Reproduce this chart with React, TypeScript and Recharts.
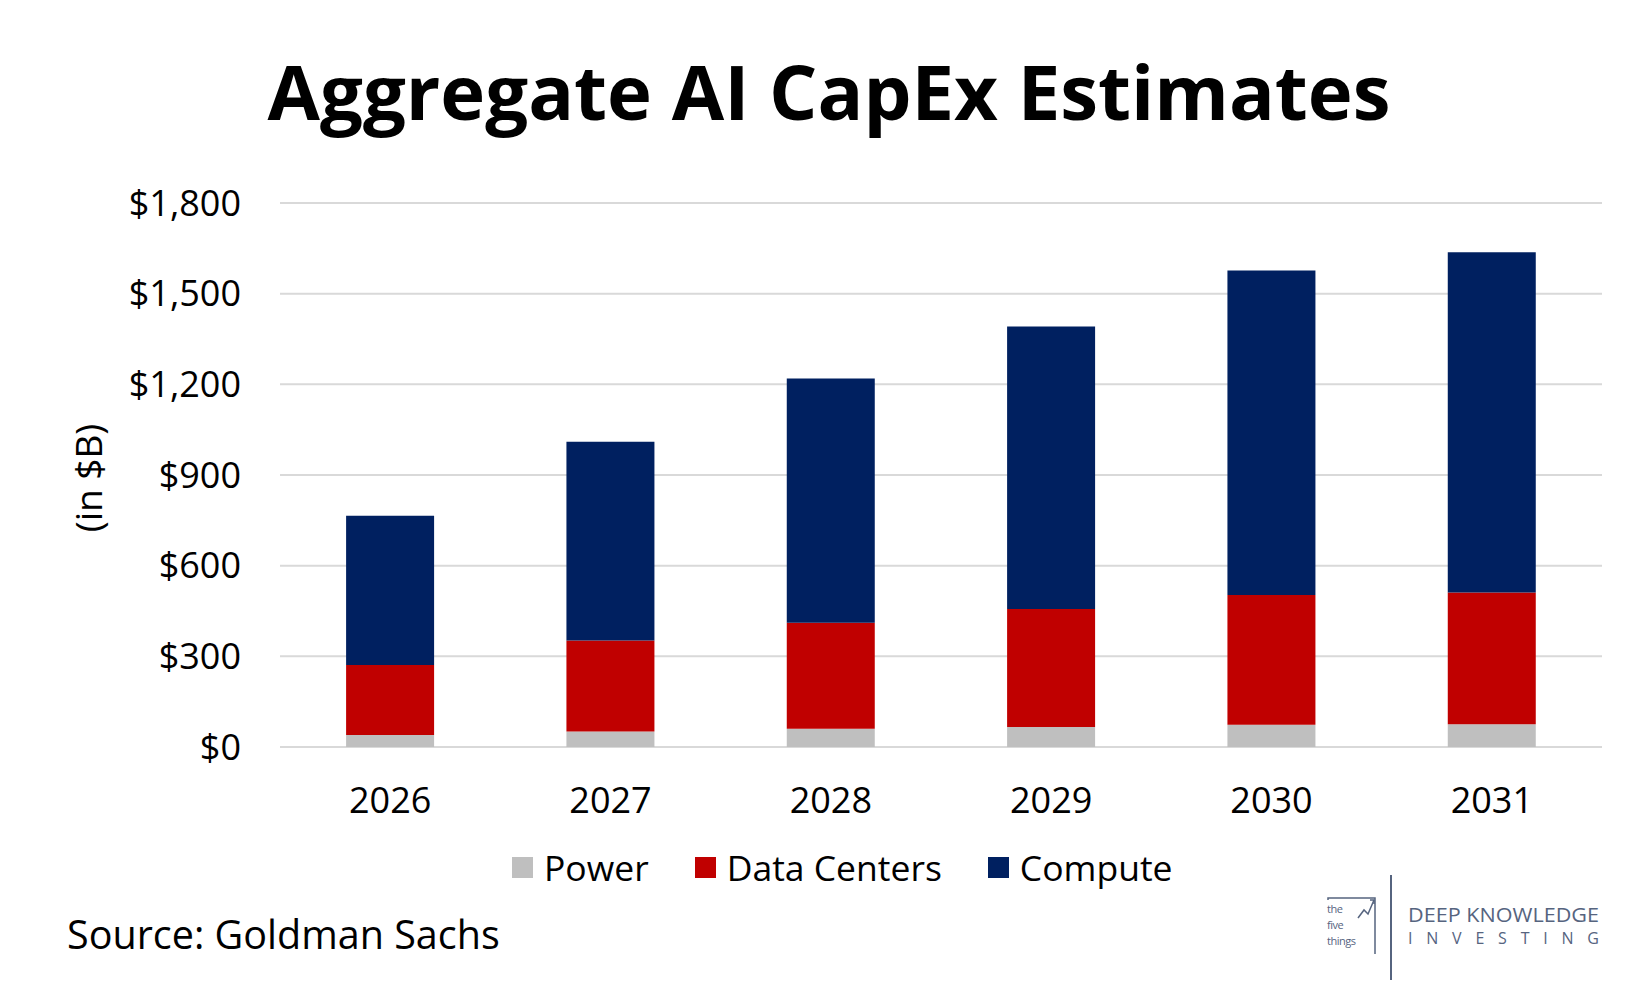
import React from "react";
import { BarChart, Bar, XAxis, YAxis, CartesianGrid } from "recharts";

const years = ["2026", "2027", "2028", "2029", "2030", "2031"];
const power = [40, 51, 60, 66, 74, 75];
const dataCenters = [231, 301, 351, 391, 429, 436];
const compute = [494, 658, 808, 934, 1074, 1126];
const yTicks = [0, 300, 600, 900, 1200, 1500, 1800];

const seriesNames = ["Power", "Data Centers", "Compute"];
const seriesColors = ["#bfbfbf", "#c00000", "#002060"];

const data = years.map((y, i) => ({
  year: y,
  Power: power[i],
  "Data Centers": dataCenters[i],
  Compute: compute[i],
}));

const FONT = "'Open Sans', 'Noto Sans', sans-serif";

const fmt = (v: number) => "$" + v.toLocaleString("en-US");

const YLabel = () => (
  <text
    x={87}
    y={478}
    transform="rotate(-90 87 478)"
    textAnchor="middle"
    dominantBaseline="central"
    fontFamily={FONT}
    fontSize={37}
    fill="#000"
  >
    (in $B)
  </text>
);

export default function App() {
  return (
    <div style={{ position: "absolute", left: 0, top: 0, width: 1650, height: 990, background: "#fff" }}>
      <div
        style={{
          position: "absolute",
          left: 0,
          top: 36,
          width: 1658,
          textAlign: "center",
          fontFamily: FONT,
          fontWeight: 700,
          fontSize: 76,
          lineHeight: "110px",
          color: "#000",
        }}
      >
        Aggregate AI CapEx Estimates
      </div>
      <BarChart
        width={1650}
        height={990}
        data={data}
        margin={{ top: 203, right: 48, bottom: 0, left: 0 }}
        barCategoryGap="30%"
      >
        <CartesianGrid vertical={false} stroke="#d9d9d9" strokeWidth={2} />
        <XAxis
          dataKey="year"
          axisLine={false}
          tickLine={false}
          tickSize={0}
          tickMargin={40}
          tick={{ fontFamily: FONT, fontSize: 36, fill: "#000" }}
          height={243}
        />
        <YAxis
          width={280}
          domain={[0, 1800]}
          ticks={yTicks}
          tickFormatter={fmt}
          axisLine={false}
          tickLine={false}
          tickSize={0}
          tickMargin={39}
          interval={0}
          tick={{ fontFamily: FONT, fontSize: 36, fill: "#000" }}
          label={{ content: () => <YLabel /> }}
        />
        {seriesNames.map((name, i) => (
          <Bar
            key={name}
            dataKey={name}
            stackId="a"
            fill={seriesColors[i]}
            isAnimationActive={false}
          />
        ))}
      </BarChart>
      <div
        style={{
          position: "absolute",
          left: 512,
          top: 845,
          height: 44,
          display: "flex",
          alignItems: "center",
          fontFamily: FONT,
          fontSize: 35.5,
          color: "#000",
        }}
      >
        {seriesNames.map((name, i) => (
          <div key={name} style={{ display: "flex", alignItems: "center", marginRight: 46 }}>
            <div style={{ width: 21, height: 21, background: seriesColors[i], marginRight: 11 }} />
            <span style={{ lineHeight: "44px", whiteSpace: "nowrap" }}>{name}</span>
          </div>
        ))}
      </div>
      <div
        style={{
          position: "absolute",
          left: 67,
          top: 910,
          fontFamily: FONT,
          fontSize: 39.5,
          lineHeight: "48px",
          color: "#000",
        }}
      >
        Source: Goldman Sachs
      </div>
      <svg style={{ position: "absolute", left: 1320, top: 870 }} width={330} height={120}>
        <g stroke="#56647f" fill="none" strokeWidth={1.5}>
          <polyline points="8,30 8,28 55,28 55,84" />
          <polyline points="38,48 44,40 48,44 54,30" />
          <polyline points="50,30 54,30 54,34" />
        </g>
        <g fontFamily={FONT} fill="#56647f" fontSize={11} letterSpacing={-0.5}>
          <text x={7} y={43}>the</text>
          <text x={7} y={59}>five</text>
          <text x={7} y={75}>things</text>
        </g>
        <line x1={71} y1={5} x2={71} y2={110} stroke="#56647f" strokeWidth={2} />
        <text x={88} y={52} fontFamily={FONT} fontSize={19.5} fill="#56647f" textLength={191} lengthAdjust="spacingAndGlyphs">
          DEEP KNOWLEDGE
        </text>
        <text x={88} y={74} fontFamily={FONT} fontSize={16} fill="#56647f" textLength={191}>
          INVESTING
        </text>
      </svg>
    </div>
  );
}
